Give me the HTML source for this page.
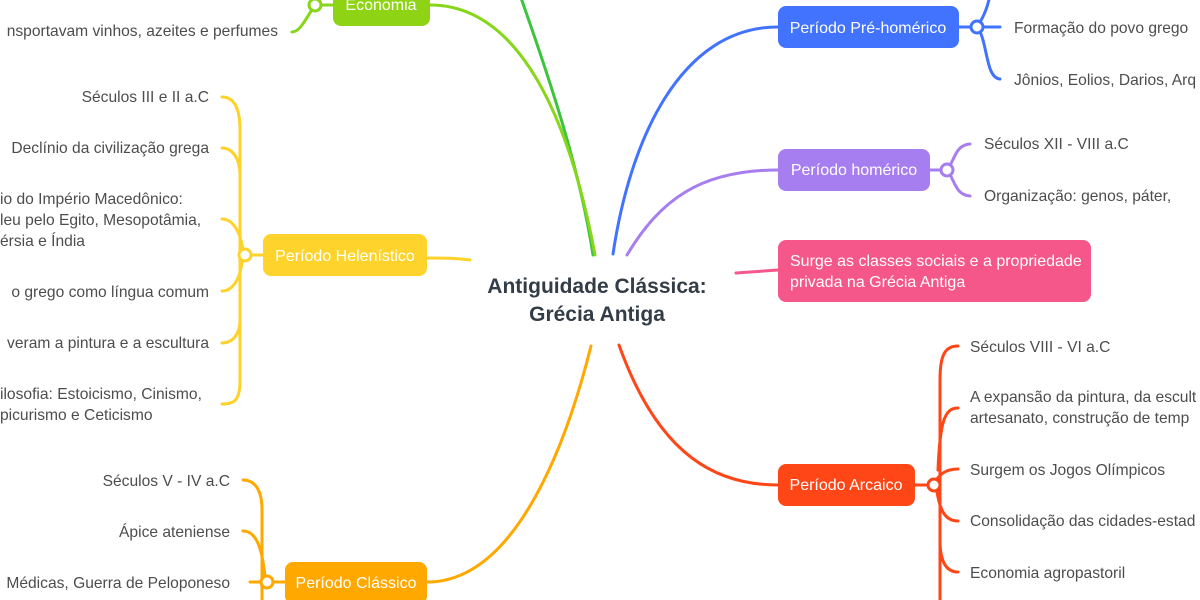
<!DOCTYPE html>
<html><head><meta charset="utf-8">
<style>
html,body{margin:0;padding:0;background:#fff;}
svg{display:block;}
text{font-family:"Liberation Sans",sans-serif;}
.t{font-size:15.6px;fill:#4d4d4d;}
.b{font-size:16px;fill:#fff;}
</style></head><body>
<svg width="1200" height="600" viewBox="0 0 1200 600" xmlns="http://www.w3.org/2000/svg">
<g fill="none" stroke-width="3" stroke-linecap="round">
<path d="M520 -5 C550 80 580 170 593 255" stroke="#3cc43c"/>
<path d="M430 5 C520 5 570 120 595 255" stroke="#86d61a"/>
<path d="M427 258 C445 258 455 258 470 260" stroke="#fdd22a"/>
<path d="M427 582 C520 582 570 430 591 346" stroke="#ffa800"/>
<path d="M778 27 C680 27 630 140 613 254" stroke="#4273ff"/>
<path d="M778 170 C700 170 660 200 627 255" stroke="#a77ef0"/>
<path d="M736 273 C750 272 765 271 778 270" stroke="#f5578a"/>
<path d="M619 345 C660 460 720 485 778 485" stroke="#ff4617"/>
<path d="M333 5 L315 5 M315 5 C305 20 300 32 292 32 M315 5 C320 -5 322 -10 330 -14" stroke="#86d61a"/>
<g stroke="#fdd22a">
<path d="M263 255 L245 255"/>
<path d="M222 97 C235 97 240 110 240 130 L240 380 C240 400 235 404 222 404"/>
<path d="M222 148 C232 148 240 158 240 175"/>
<path d="M222 219 C232 219 240 230 243 250"/>
<path d="M222 291 C232 291 240 280 242 262"/>
<path d="M222 343 C232 343 240 335 240 320"/>
</g>
<g stroke="#ffa800">
<path d="M285 582 L267 582 M250 582 L267 582"/>
<path d="M243 480 C255 480 262 490 262 510 L262 600"/>
<path d="M243 531 C255 531 262 545 265 577"/>
</g>
<g stroke="#4273ff">
<path d="M959 27 L977 27 L1000 27"/>
<path d="M977 27 C985 15 988 5 990 -5"/>
<path d="M977 27 C988 40 985 78 1000 79"/>
</g>
<g stroke="#a77ef0">
<path d="M930 170 L947 170"/>
<path d="M947 170 C955 160 955 145 970 144"/>
<path d="M947 170 C955 180 955 195 970 196"/>
</g>
<g stroke="#ff4617">
<path d="M915 485 L934 485"/>
<path d="M958 346 C945 346 940 355 940 380 L940 600"/>
<path d="M958 408 C945 408 940 420 938 470"/>
<path d="M958 469 C945 469 940 475 936 480"/>
<path d="M958 521 C945 521 940 510 937 492"/>
<path d="M958 572 C945 572 940 560 940 540"/>
</g>
</g>
<g fill="#fff" stroke-width="3">
<circle cx="315" cy="5" r="6" stroke="#86d61a"/>
<circle cx="245" cy="255" r="6" stroke="#fdd22a"/>
<circle cx="267" cy="582" r="6" stroke="#ffa800"/>
<circle cx="977" cy="27" r="6" stroke="#4273ff"/>
<circle cx="947" cy="170" r="6" stroke="#a77ef0"/>
<circle cx="934" cy="485" r="6" stroke="#ff4617"/>
</g>
<rect x="333" y="-16" width="97" height="42" rx="8" fill="#8fd414"/>
<text class="b" x="381" y="10" text-anchor="middle">Economia</text>
<rect x="263" y="234" width="164" height="42" rx="8" fill="#fed42c"/>
<text class="b" x="345" y="261" text-anchor="middle">Período Helenístico</text>
<rect x="285" y="562" width="142" height="42" rx="8" fill="#ffa800"/>
<text class="b" x="356" y="588" text-anchor="middle">Período Clássico</text>
<rect x="778" y="6" width="181" height="42" rx="8" fill="#4273ff"/>
<text class="b" x="868" y="33" text-anchor="middle">Período Pré-homérico</text>
<rect x="778" y="149" width="152" height="42" rx="8" fill="#a77ef0"/>
<text class="b" x="854" y="175" text-anchor="middle">Período homérico</text>
<rect x="778" y="240" width="313" height="62" rx="8" fill="#f5578a"/>
<text class="b" x="790" y="266">Surge as classes sociais e a propriedade</text>
<text class="b" x="790" y="287">privada na Grécia Antiga</text>
<rect x="778" y="464" width="137" height="42" rx="8" fill="#ff4617"/>
<text class="b" x="846" y="490" text-anchor="middle">Período Arcaico</text>
<text x="597" y="293" text-anchor="middle" font-size="21" font-weight="bold" fill="#333d47">Antiguidade Clássica:</text>
<text x="597" y="321" text-anchor="middle" font-size="21" font-weight="bold" fill="#333d47">Grécia Antiga</text>
<g class="t" text-anchor="end">
<text x="278" y="36">nsportavam vinhos, azeites e perfumes</text>
<text x="209" y="102">Séculos III e II a.C</text>
<text x="209" y="153">Declínio da civilização grega</text>
<text x="209" y="297">o grego como língua comum</text>
<text x="209" y="348">veram a pintura e a escultura</text>
<text x="230" y="486">Séculos V - IV a.C</text>
<text x="230" y="537">Ápice ateniense</text>
<text x="230" y="588">Médicas, Guerra de Peloponeso</text>
</g>
<g class="t">
<text x="0" y="204">io do Império Macedônico:</text>
<text x="0" y="225">leu pelo Egito, Mesopotâmia,</text>
<text x="0" y="246">érsia e Índia</text>
<text x="0" y="399">ilosofia: Estoicismo, Cinismo,</text>
<text x="0" y="420">picurismo e Ceticismo</text>
<text x="1014" y="33">Formação do povo grego</text>
<text x="1014" y="85">Jônios, Eolios, Darios, Arq</text>
<text x="984" y="149">Séculos XII - VIII a.C</text>
<text x="984" y="201">Organização: genos, páter,</text>
<text x="970" y="352">Séculos VIII - VI a.C</text>
<text x="970" y="402">A expansão da pintura, da escult</text>
<text x="970" y="423">artesanato, construção de temp</text>
<text x="970" y="475">Surgem os Jogos Olímpicos</text>
<text x="970" y="526">Consolidação das cidades-estad</text>
<text x="970" y="578">Economia agropastoril</text>
</g>
</svg>
</body></html>
